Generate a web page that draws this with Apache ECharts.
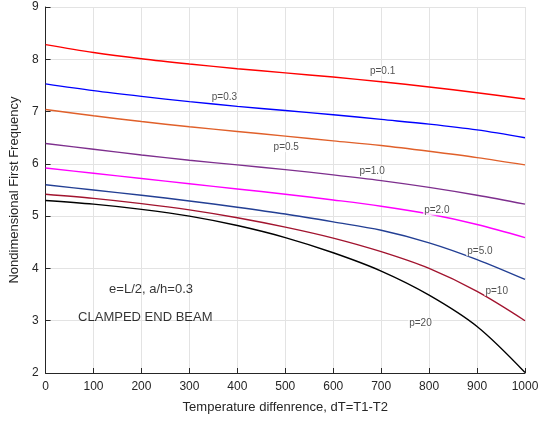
<!DOCTYPE html>
<html>
<head>
<meta charset="utf-8">
<script src="https://cdn.jsdelivr.net/npm/echarts@6/dist/echarts.min.js"></script>
<style>
  html, body { margin: 0; padding: 0; background: #fff; }
  #chart { width: 551px; height: 422px; }
</style>
</head>
<body>
<div id="chart"></div>
<script>
// Temperature difference (x) and first natural frequency per power-law index p
var dT = [0, 100, 200, 300, 400, 500, 600, 700, 800, 900, 1000];
var p01 = [8.28, 8.13, 8.01, 7.91, 7.82, 7.74, 7.66, 7.57, 7.47, 7.36, 7.24];
var p03 = [7.53, 7.40, 7.29, 7.19, 7.10, 7.02, 6.94, 6.85, 6.76, 6.65, 6.50];
var p05 = [7.04, 6.92, 6.81, 6.71, 6.62, 6.53, 6.44, 6.35, 6.24, 6.12, 5.98];
var p10 = [6.39, 6.28, 6.17, 6.07, 5.98, 5.89, 5.79, 5.68, 5.55, 5.40, 5.23];
var p20 = [5.92, 5.82, 5.72, 5.62, 5.52, 5.42, 5.31, 5.19, 5.04, 4.84, 4.59];
var p50 = [5.60, 5.50, 5.40, 5.29, 5.17, 5.04, 4.89, 4.73, 4.49, 4.17, 3.79];
var p100 = [5.42, 5.34, 5.24, 5.12, 4.97, 4.79, 4.58, 4.32, 4.00, 3.56, 3.00];
var p200 = [5.30, 5.23, 5.13, 5.00, 4.82, 4.59, 4.30, 3.95, 3.49, 2.89, 2.01];

var curveNames = ['p=0.1', 'p=0.3', 'p=0.5', 'p=1.0', 'p=2.0', 'p=5.0', 'p=10', 'p=20'];
var curveValues = [p01, p03, p05, p10, p20, p50, p100, p200];
var curveColors = ['#ff0000', '#0000ff', '#e0602a', '#7e2f8e', '#ff00ff', '#233f94', '#a2142f', '#000000'];

// Inline curve labels, placed in data coordinates [dT, frequency]
var curveLabelPos = [
  [703, 7.78], [373, 7.27], [502, 6.32], [681, 5.86],
  [816, 5.11], [906, 4.33], [941, 3.57], [782, 2.96]
];
// Annotation text, in data coordinates
var notes = ['e=L/2, a/h=0.3', 'CLAMPED END BEAM'];
var notePos = [[220, 3.60], [208, 3.06]];

var FONT = 'Liberation Sans, Arial, sans-serif';
var TXT = '#262626';

var series = [];
curveValues.forEach(function (vals, i) {
  series.push({
    type: 'line',
    name: curveNames[i],
    data: dT.map(function (t, k) { return [t, vals[k]]; }),
    smooth: 0.33,
    showSymbol: false,
    symbol: 'none',
    lineStyle: { color: curveColors[i], width: 1.4 },
    z: 3,
    silent: true
  });
});

series.push({
  type: 'scatter',
  data: curveLabelPos.map(function (c, i) { return { value: c, name: curveNames[i] }; }),
  symbolSize: 0,
  z: 5,
  silent: true,
  label: {
    show: true,
    position: 'inside',
    formatter: function (d) { return d.name; },
    fontFamily: FONT,
    fontSize: 10,
    color: TXT,
    backgroundColor: '#ffffff',
    padding: [0, 1]
  }
});

series.push({
  type: 'scatter',
  data: notePos.map(function (c, i) { return { value: c, name: notes[i] }; }),
  symbolSize: 0,
  z: 5,
  silent: true,
  label: {
    show: true,
    position: 'inside',
    formatter: function (d) { return d.name; },
    fontFamily: FONT,
    fontSize: 13,
    color: '#000000'
  }
});

var chart = echarts.init(document.getElementById('chart'), null, { renderer: 'canvas' });
chart.setOption({
  animation: false,
  backgroundColor: '#ffffff',
  grid: { left: 43, right: 26, top: 7, bottom: 49 },
  xAxis: {
    type: 'value',
    min: 0, max: 1000, interval: 100,
    name: 'Temperature diffenrence, dT=T1-T2',
    nameLocation: 'middle',
    nameGap: 28,
    nameTextStyle: { fontFamily: FONT, fontSize: 13, color: TXT },
    axisLine: { show: true, lineStyle: { color: TXT, width: 1 } },
    axisTick: { show: true, inside: true, length: 5, lineStyle: { color: TXT } },
    axisLabel: {
      fontFamily: FONT, fontSize: 12, color: TXT, margin: 8,
      formatter: function (v) { return String(v); }
    },
    splitLine: { show: true, lineStyle: { color: '#e3e3e3', width: 1 } }
  },
  yAxis: {
    type: 'value',
    min: 2, max: 9, interval: 1,
    name: 'Nondimensional First Frequency',
    nameLocation: 'middle',
    nameGap: 11,
    nameTextStyle: { fontFamily: FONT, fontSize: 13, color: TXT },
    axisLine: { show: true, lineStyle: { color: TXT, width: 1 } },
    axisTick: { show: true, inside: true, length: 5, lineStyle: { color: TXT } },
    axisLabel: { fontFamily: FONT, fontSize: 12, color: TXT, margin: 7 },
    splitLine: { show: true, lineStyle: { color: '#e3e3e3', width: 1 } }
  },
  series: series
});
</script>
</body>
</html>
